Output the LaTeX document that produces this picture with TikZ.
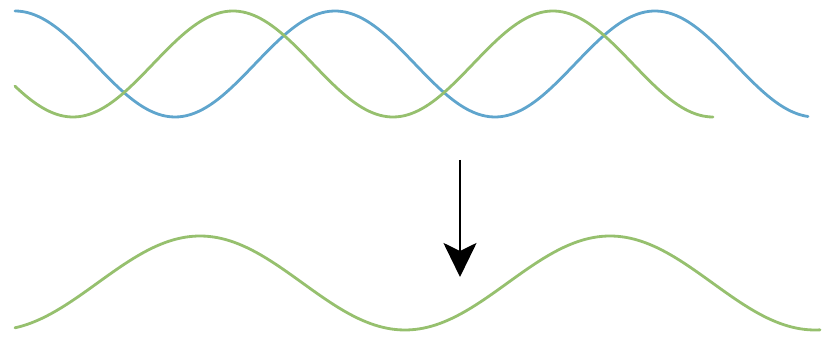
\documentclass[tikz,border=0pt]{standalone}
\usetikzlibrary{arrows.meta}
\definecolor{waveblue}{RGB}{95,165,205}
\definecolor{wavegreen}{RGB}{150,192,110}
\tikzset{wave/.style={line width=2.4pt,smooth,samples=200,line cap=round}}
\begin{document}
\begin{tikzpicture}[x=0.03cm,y=-0.03cm,line width=.8pt]
\useasboundingbox (0,0) rectangle (827,346);
% two waves out of phase
\draw[wave,waveblue] plot[domain=15:808] (\x,{64-53*cos(1.125*(\x-15))});
\draw[wave,wavegreen] plot[domain=15:713] (\x,{64+53*cos(1.125*(\x-73))});
% resulting wave
\coordinate (top) at (460,160); \coordinate (tip) at (460,277);
\draw[line width=2.2pt,-{Stealth[length=34*0.03cm,width=33*0.03cm,inset=8*0.03cm]}] (top)--(tip);
\draw[wave,wavegreen] plot[domain=15:820] (\x,{283-47*cos(0.878*(\x-200))});
\end{tikzpicture}
\end{document}
